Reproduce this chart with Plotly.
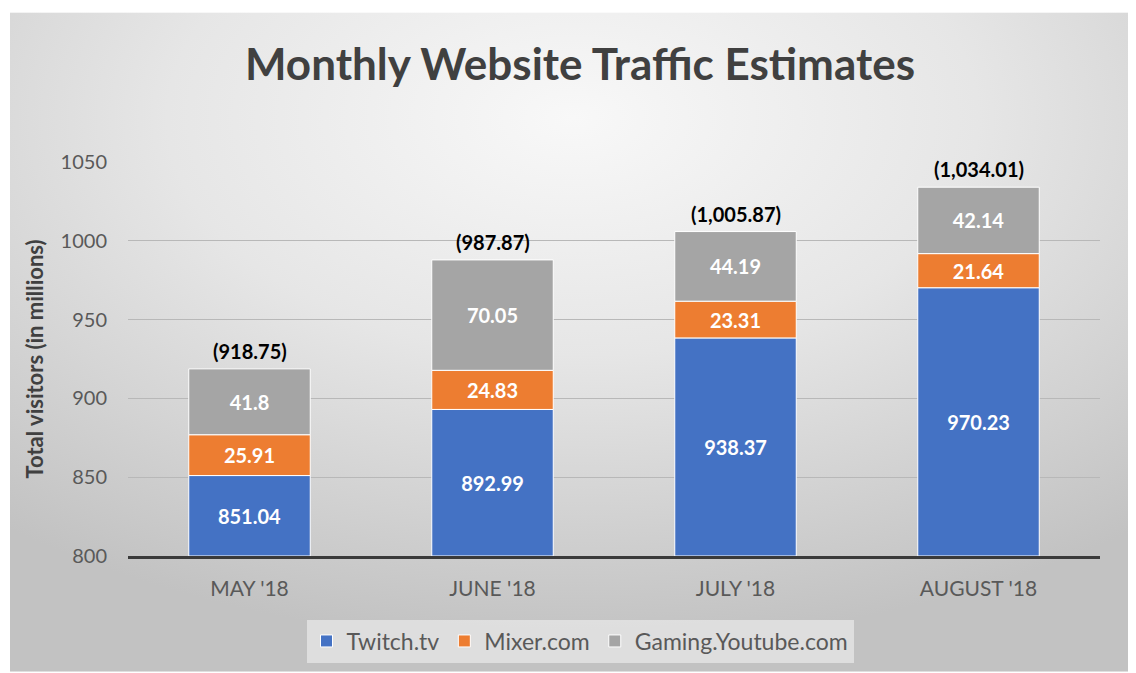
import base64
import plotly.graph_objects as go

# ---- data ----
months = ["MAY '18", "JUNE '18", "JULY '18", "AUGUST '18"]
twitch = [851.04, 892.99, 938.37, 970.23]
mixer = [25.91, 24.83, 23.31, 21.64]
youtube = [41.8, 70.05, 44.19, 42.14]
series_names = ["Twitch.tv", "Mixer.com", "Gaming.Youtube.com"]
y_ticks = [800, 850, 900, 950, 1000, 1050]

# ---- style ----
colors = ["#4472C4", "#ED7D31", "#A5A5A5"]
FONT = "Lato"
OFF = 8  # page body margin
W, H = 1136 - OFF, 673 - OFF
ML, MR, MT, MB = 128 - OFF, 36, 162 - OFF, 116
AXIS_FLOOR = 800

totals = [t + m + g for t, m, g in zip(twitch, mixer, youtube)]
mix_base = twitch
yt_base = [t + m for t, m in zip(twitch, mixer)]

fig = go.Figure()
common = dict(
    textposition="inside", insidetextanchor="middle", textangle=0,
    textfont=dict(family=FONT, size=20, color="white", weight="bold"),
    marker_line=dict(color="white", width=1), width=0.5,
)
fig.add_trace(go.Bar(
    x=months, y=[t - AXIS_FLOOR for t in twitch], base=AXIS_FLOOR,
    text=[f"{v:g}" for v in twitch], name=series_names[0],
    marker_color=colors[0], **common))
fig.add_trace(go.Bar(
    x=months, y=mixer, base=mix_base,
    text=[f"{v:g}" for v in mixer], name=series_names[1],
    marker_color=colors[1], **common))
fig.add_trace(go.Bar(
    x=months, y=youtube, base=yt_base,
    text=[f"{v:g}" for v in youtube], name=series_names[2],
    marker_color=colors[2], **common))

for m, tot in zip(months, totals):
    fig.add_annotation(
        x=m, y=tot, xref="x", yref="y", text=f"({tot:,.2f})",
        showarrow=False, yanchor="bottom", yshift=4,
        font=dict(family=FONT, size=20, color="#000000", weight="bold"))

# gradient background via svg image
pw, ph = W - ML - MR, H - MT - MB
fx0, fy0 = 10 - OFF, 12 - OFF
svg = (f'<svg xmlns="http://www.w3.org/2000/svg" width="{W - fx0}" height="{H - fy0}">'
       '<defs><radialGradient id="g" cx="50%" cy="16%" r="80%">'
       '<stop offset="0" stop-color="#f8f8f8"/><stop offset="0.45" stop-color="#e6e6e6"/>'
       '<stop offset="1" stop-color="#c2c2c2"/></radialGradient></defs>'
       f'<rect width="{W - fx0}" height="{H - fy0}" fill="url(#g)"/></svg>')
src = "data:image/svg+xml;base64," + base64.b64encode(svg.encode()).decode()
fig.add_layout_image(dict(
    source=src, xref="paper", yref="paper",
    x=(fx0 - ML) / pw, y=(H - MB - fy0) / ph,
    sizex=(W - fx0) / pw, sizey=(H - fy0) / ph,
    xanchor="left", yanchor="top", sizing="stretch", layer="below"))

fig.update_layout(
    width=W, height=H,
    margin=dict(l=ML, r=MR, t=MT, b=MB, pad=0),
    paper_bgcolor="white", plot_bgcolor="rgba(0,0,0,0)",
    barmode="overlay",
    title=dict(text="<b>Monthly Website Traffic Estimates</b>", x=(580 - OFF) / W, xanchor="center",
               y=1 - (65 - OFF) / H, yanchor="middle",
               font=dict(family=FONT, size=44, color="#404040")),
    showlegend=True,
    legend=dict(orientation="h", x=(580 - 128) / pw, xanchor="center", y=-84 / ph, yanchor="middle",
                bgcolor="rgba(240,240,240,0.6)", borderwidth=0,
                font=dict(family=FONT, size=23, color="#595959"),
                traceorder="normal"),
    font=dict(family=FONT),
)
fig.update_xaxes(
    showgrid=False, showline=True, linecolor="#3a3a3a", linewidth=3,
    ticks="", tickfont=dict(family=FONT, size=21, color="#595959"),
    ticklabelstandoff=12,
)
fig.update_yaxes(
    range=[800, 1050], tickvals=y_ticks, showgrid=True, gridcolor="#b8b8b8",
    gridwidth=1, zeroline=False, showline=False, ticks="",
    tickfont=dict(family=FONT, size=20, color="#595959"), ticklabelstandoff=20,
    title=dict(text="<b>Total visitors (in millions)</b>", standoff=10,
               font=dict(family=FONT, size=22, color="#404040")),
)

fig.write_html("out.html")
